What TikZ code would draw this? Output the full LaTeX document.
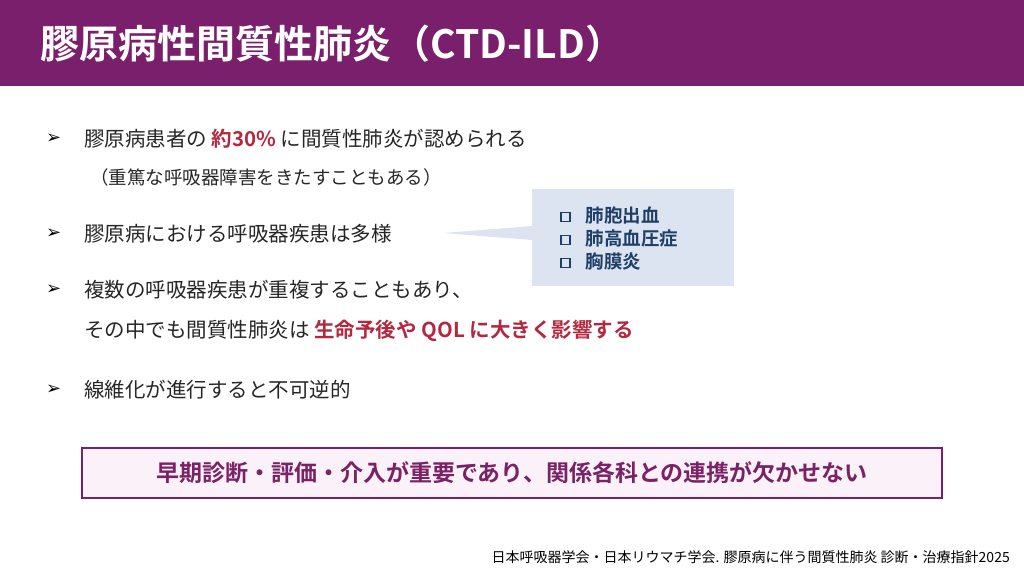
\documentclass[tikz,border=0pt]{standalone}
\usepackage{fontspec}
\setmainfont{Noto Sans CJK JP}
\newfontfamily\dejavu{DejaVu Sans}
\newfontfamily\jpb{Noto Sans CJK JP Bold}
\definecolor{ttl}{HTML}{7A1F6C}
\definecolor{red}{HTML}{B3283F}
\definecolor{navy}{HTML}{1F3F66}
\definecolor{callbg}{HTML}{DCE4F1}
\definecolor{boxbg}{HTML}{FBF1F9}
\definecolor{boxtx}{HTML}{7A2265}
\newcommand{\sqbox}{\tikz[baseline=-0.5pt]\draw[navy,line width=1.8pt] (0,0) rectangle (9pt,9pt);}
\tikzset{body/.style={anchor=west,inner sep=0pt,font=\fontsize{20.5}{24}\selectfont,text=black!85},
 bul/.style={anchor=west,inner sep=0pt,font=\dejavu\fontsize{18}{20}\selectfont},
 emph/.style={text=red,font=\jpb\fontsize{20.5}{24}\selectfont}}
\begin{document}
\begin{tikzpicture}[x=1pt,y=-1pt]
\useasboundingbox (0,0) rectangle (1024,576);
\fill[ttl] (0,0) rectangle (1024,86);
\node[anchor=west,inner sep=0pt,text=white,font=\jpb\fontsize{39}{44}\selectfont] (title) at (40,44) {膠原病性間質性肺炎（CTD-ILD）};
\node[bul] (b1) at (46,139) {➢};
\node[body] (t1) at (84,139) {膠原病患者の {\jpb\color{red}約30\%} に間質性肺炎が認められる};
\node[body,font=\fontsize{18.5}{22}\selectfont] (t1b) at (90,177) {（重篤な呼吸器障害をきたすこともある）};
\node[bul] (b2) at (46,234) {➢};
\node[body] (t2) at (84,234) {膠原病における呼吸器疾患は多様};
\node[bul] (b3) at (46,290) {➢};
\node[body] (t3) at (84,290) {複数の呼吸器疾患が重複することもあり、};
\node[body] (t3b) at (84,331) {その中でも間質性肺炎は {\jpb\color{red}生命予後や QOL に大きく影響する}};
\node[bul] (b4) at (46,390) {➢};
\node[body] (t4) at (84,390) {線維化が進行すると不可逆的};
\fill[callbg] (532,189) rectangle (734,286);
\fill[callbg] (443,233) -- (532,226) -- (532,240) -- cycle;
\node[anchor=west,inner sep=0pt,text=navy,font=\jpb\fontsize{18.5}{22}\selectfont,align=left] (call) at (560,238) {\sqbox\hspace{0.8em}肺胞出血\\[1pt]\sqbox\hspace{0.8em}肺高血圧症\\[1pt]\sqbox\hspace{0.8em}胸膜炎};
\draw[ttl,line width=1.2pt,fill=boxbg] (82,448) rectangle (942,498);
\node[text=boxtx,font=\jpb\fontsize{23}{26}\selectfont] (msg) at (512,473) {早期診断・評価・介入が重要であり、関係各科との連携が欠かせない};
\node[anchor=east,inner sep=0pt,font=\fontsize{14}{16}\selectfont] (ref) at (1010,557) {日本呼吸器学会・日本リウマチ学会. 膠原病に伴う間質性肺炎 診断・治療指針2025};
\end{tikzpicture}
\end{document}
